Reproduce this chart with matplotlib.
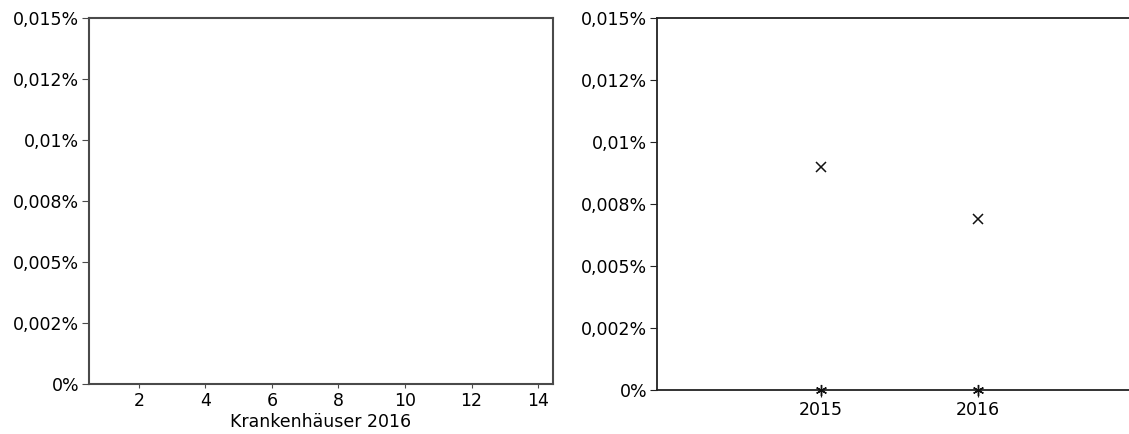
import matplotlib.pyplot as plt

plt.rcParams['font.family'] = ['DejaVu Sans']
plt.rcParams['font.size'] = 12.5

# left panel: hospitals 2016 (no data shown)
hospital_ticks = [2, 4, 6, 8, 10, 12, 14]

# right panel: yearly values
years = [2015, 2016]
x_values = [0.0090, 0.0069]
star_values = [0.0, 0.0]

y_ticks = [0, 0.0025, 0.005, 0.0075, 0.01, 0.0125, 0.015]
y_labels = ['0%', '0,002%', '0,005%', '0,008%', '0,01%', '0,012%', '0,015%']

fig = plt.figure(figsize=(11.29, 4.34), dpi=100)

ax1 = fig.add_axes([89/1129, 1-384/434, (553-89)/1129, (384-18)/434])
ax1.set_xlim(0.5, 14.45)
ax1.set_ylim(0, 0.015)
ax1.set_xticks(hospital_ticks)
ax1.set_yticks(y_ticks)
ax1.set_yticklabels(y_labels)
ax1.set_xlabel('Krankenhäuser 2016', labelpad=2)
for s in ax1.spines.values():
    s.set_color('#4a4a4a')
    s.set_linewidth(1.5)
ax1.tick_params(axis='x', length=3, color='#4a4a4a', pad=3)
ax1.tick_params(axis='y', length=5, color='#4a4a4a', pad=2)

ax2 = fig.add_axes([657/1129, 1-390/434, (1129-657)/1129, (390-18)/434])
ax2.set_xlim(2013.955, 2016.962)
ax2.set_ylim(0, 0.015)
ax2.plot(years, x_values, linestyle='none', marker='x', markersize=7,
         markeredgewidth=1.1, color='#111111', clip_on=False)
ax2.plot(years, star_values, linestyle='none', marker=(6, 2, 0), markersize=8,
         markeredgewidth=1.0, color='#111111', clip_on=False, zorder=5)
ax2.set_xticks(years)
ax2.set_yticks(y_ticks)
ax2.set_yticklabels(y_labels)
ax2.spines['right'].set_visible(False)
for s in ['left', 'top', 'bottom']:
    ax2.spines[s].set_color('#222222')
    ax2.spines[s].set_linewidth(1.3)
ax2.tick_params(axis='x', length=5, color='#222222', pad=3)
ax2.tick_params(axis='y', length=5, color='#222222', pad=2)

plt.savefig('out.png', dpi=100)
